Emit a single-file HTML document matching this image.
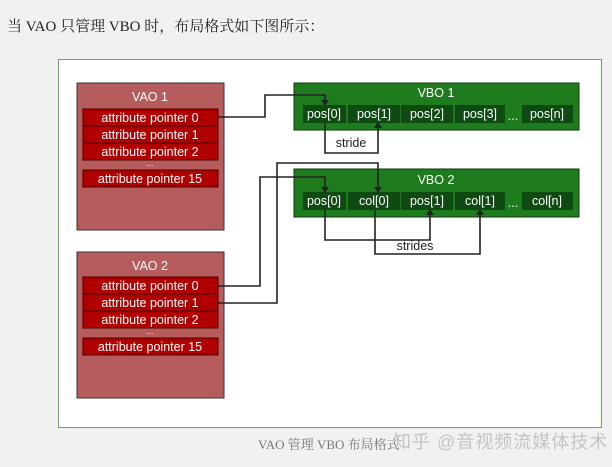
<!DOCTYPE html>
<html><head><meta charset="utf-8"><style>
body{margin:0;width:612px;height:467px;background:#f1f1f1;overflow:hidden;position:relative;font-family:"Liberation Sans","Noto Sans CJK SC",sans-serif}
.t{position:absolute;left:7px;top:15px;font-family:"Liberation Serif","Noto Serif CJK SC",serif;font-size:15px;color:#222}
.fig{position:absolute;left:58px;top:59px;width:542px;height:367px;background:#fff;border:1px solid #6aa84f}
.cap{position:absolute;left:258px;top:434px;font-family:"Liberation Serif","Noto Serif CJK SC",serif;font-size:13px;color:#777}
.wm{position:absolute;left:393px;top:428px;font-size:18px;color:#c4c4c4;letter-spacing:1px}
svg{position:absolute;left:0;top:0}
</style></head><body>
<div class="t">当 VAO 只管理 VBO 时，布局格式如下图所示：</div>
<div class="fig"></div>
<svg width="612" height="467" font-family="Liberation Sans, sans-serif">
<g stroke="#333" stroke-width="1">
<rect x="77" y="83" width="147" height="147" fill="#b65c5c"/>
<rect x="77" y="252" width="147" height="146" fill="#b65c5c"/>
</g>
<g fill="#fff" font-size="12.5" text-anchor="middle">
<text x="150" y="101">VAO 1</text><text x="150" y="270">VAO 2</text>
</g>
<g stroke="#4a0000" stroke-width="1" fill="#b00000">
<rect x="83" y="109" width="135" height="17"/><rect x="83" y="126" width="135" height="17"/><rect x="83" y="143" width="135" height="17"/><rect x="83" y="170" width="135" height="17"/>
<rect x="83" y="277" width="135" height="17"/><rect x="83" y="294" width="135" height="17"/><rect x="83" y="311" width="135" height="17"/><rect x="83" y="338" width="135" height="17"/>
</g>
<g fill="#fff" font-size="12.5" text-anchor="middle">
<text x="150" y="122">attribute pointer 0</text><text x="150" y="139">attribute pointer 1</text><text x="150" y="156">attribute pointer 2</text><text x="150" y="166" font-size="8">...</text><text x="150" y="183">attribute pointer 15</text>
<text x="150" y="290">attribute pointer 0</text><text x="150" y="307">attribute pointer 1</text><text x="150" y="324">attribute pointer 2</text><text x="150" y="334" font-size="8">...</text><text x="150" y="351">attribute pointer 15</text>
</g>
<g stroke="#0a3a0a" fill="#1e7b1e"><rect x="294" y="83" width="285" height="47"/><rect x="294" y="169" width="285" height="48"/></g>
<g fill="#0e4a12">
<rect x="303" y="105" width="43" height="18"/><rect x="348" y="105" width="52" height="18"/><rect x="401" y="105" width="52" height="18"/><rect x="455" y="105" width="50" height="18"/><rect x="522" y="105" width="51" height="18"/>
<rect x="303" y="192" width="43" height="18"/><rect x="348" y="192" width="52" height="18"/><rect x="401" y="192" width="52" height="18"/><rect x="455" y="192" width="50" height="18"/><rect x="522" y="192" width="51" height="18"/>
</g>
<g fill="#fff" font-size="12.5" text-anchor="middle">
<text x="436" y="97">VBO 1</text><text x="436" y="184">VBO 2</text>
<text x="324" y="118">pos[0]</text><text x="374" y="118">pos[1]</text><text x="427" y="118">pos[2]</text><text x="480" y="118">pos[3]</text><text x="513" y="120">...</text><text x="547" y="118">pos[n]</text>
<text x="324" y="205">pos[0]</text><text x="374" y="205">col[0]</text><text x="427" y="205">pos[1]</text><text x="480" y="205">col[1]</text><text x="513" y="207">...</text><text x="547" y="205">col[n]</text>
</g>
<g fill="none" stroke="#222" stroke-width="1.6">
<polyline points="218,117 265,117 265,95 325,95 325,102"/>
<polyline points="218,286 260,286 260,177 325,177 325,189"/>
<polyline points="218,303 277,303 277,163 378,163 378,189"/>
<polyline points="325,123 325,153 378,153 378,126"/>
<polyline points="325,210 325,240 430,240 430,213"/>
<polyline points="375,210 375,254 480,254 480,213"/>
</g>
<g fill="#222">
<polygon points="321,100 329,100 325,106"/><polygon points="321,187 329,187 325,193"/><polygon points="374,187 382,187 378,193"/>
<polygon points="374,128 382,128 378,122"/><polygon points="426,215 434,215 430,209"/><polygon points="476,215 484,215 480,209"/>
</g>
<g fill="#222" font-size="12.5" text-anchor="middle"><text x="351" y="147">stride</text><text x="415" y="250">strides</text></g>
</svg>
<div class="cap">VAO 管理 VBO 布局格式</div>
<div class="wm">知乎 @音视频流媒体技术</div>
</body></html>
